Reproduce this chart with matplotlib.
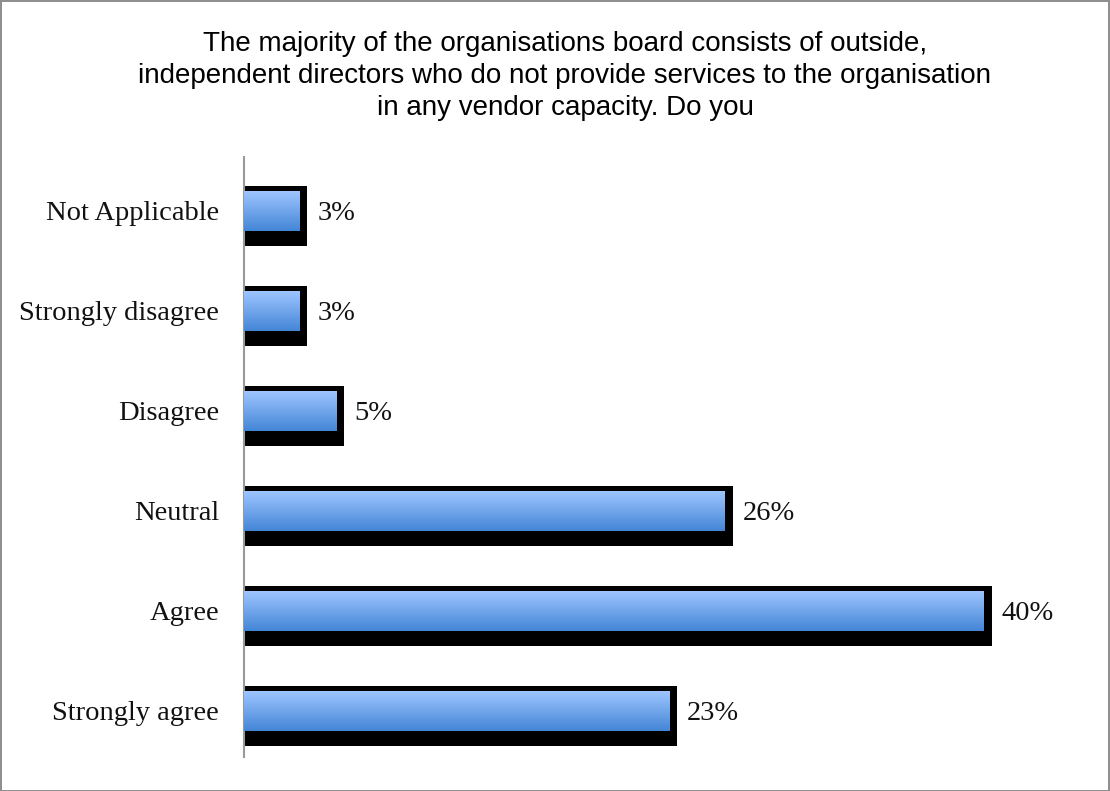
import numpy as np
import matplotlib.pyplot as plt
from matplotlib.patches import Rectangle

categories = ['Strongly agree', 'Agree', 'Neutral', 'Disagree',
              'Strongly disagree', 'Not Applicable']
values = [23, 40, 26, 5, 3, 3]
value_labels = ['23%', '40%', '26%', '5%', '3%', '3%']
title = ('The majority of the organisations board consists of outside,\n'
         'independent directors who do not provide services to the organisation\n'
         'in any vendor capacity. Do you')

W, H = 1110, 791
fig = plt.figure(figsize=(W / 100, H / 100), dpi=100)
fig.patch.set_facecolor('white')

# thin grey frame round the whole chart
fig.add_artist(Rectangle((0.5 / W, 0.5 / H), 1 - 1.5 / W, 1 - 1.5 / H,
                         transform=fig.transFigure, fill=False,
                         edgecolor='#8c8c8c', linewidth=1.4))

ax = fig.add_axes([244 / W, 34 / H, (1076 - 244) / W, 600 / H])
ax.set_xlim(0, 45)
ax.set_ylim(-0.5, len(categories) - 0.5)

px = 45 / (1076 - 244)    # data units per pixel along x
py = 1 / 100              # data units per pixel along y

grad = np.linspace(0, 1, 64).reshape(-1, 1)
top = np.array([0x9d, 0xc5, 0xff]) / 255
bot = np.array([0x44, 0x86, 0xd6]) / 255
img = top + (bot - top) * grad[..., None]
img = img.reshape(64, 1, 3)

for i, (v, lab) in enumerate(zip(values, value_labels)):
    yc = i - 0.04
    h = 40 * py
    # black frame / shadow behind the bar
    ax.add_patch(Rectangle((0, yc - h / 2 - 15 * py), v + 8 * px,
                           h + 20 * py, facecolor='black', edgecolor='none',
                           zorder=2))
    ax.imshow(img, extent=(0, v, yc - h / 2, yc + h / 2), aspect='auto',
              origin='upper', zorder=3, interpolation='bilinear')
    ax.text(v + 18 * px, yc - 3 * py, lab, va='center', ha='left',
            fontsize=20.5, family='Liberation Serif', color='#111111')

ax.set_xlim(0, 45)
ax.set_ylim(-0.5, len(categories) - 0.5)
ax.set_yticks(np.arange(len(categories)) - 0.03)
ax.set_yticklabels(categories, fontsize=20.5, family='Liberation Serif',
                   color='#111111')
ax.tick_params(axis='y', length=0, pad=18)
ax.set_xticks([])
for s in ['top', 'right', 'bottom']:
    ax.spines[s].set_visible(False)
ax.spines['left'].set_color('#999999')
ax.spines['left'].set_linewidth(1.5)

fig.text(565 / W, 1 - 76 / H, title, ha='center', va='center',
         fontsize=20, family='Liberation Sans', linespacing=1.3)

fig.savefig('out.png', dpi=100)
